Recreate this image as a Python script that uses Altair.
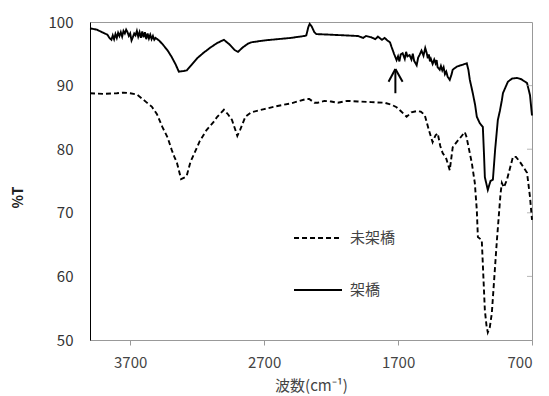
import altair as alt
import pandas as pd

# 架橋 (solid)
wn_x = [4000, 3950, 3900, 3870, 3855, 3840, 3830, 3820, 3810, 3800, 3790, 3780, 3770, 3760,
        3750, 3740, 3730, 3720, 3710, 3700, 3690, 3680, 3670, 3660, 3650, 3640, 3630, 3620,
        3610, 3600, 3590, 3580, 3570, 3560, 3550, 3540, 3530, 3520, 3510, 3480, 3450, 3420,
        3390, 3360, 3337, 3300, 3277, 3240, 3200, 3150, 3100, 3050, 3000, 2960, 2920, 2895,
        2860, 2820, 2797, 2700, 2600, 2500, 2400, 2385, 2370, 2360, 2345, 2325, 2310, 2200,
        2100, 2000, 1960, 1940, 1900, 1870, 1850, 1820, 1800, 1780, 1760, 1749, 1730, 1711,
        1700, 1690, 1680, 1666, 1650, 1640, 1630, 1614, 1600, 1590, 1580, 1561, 1550, 1540,
        1525, 1510, 1497, 1487, 1478, 1470, 1462, 1455, 1442, 1430, 1420, 1412, 1405, 1389,
        1380, 1370, 1360, 1350, 1340, 1330, 1314, 1300, 1292, 1260, 1230, 1187, 1175, 1164,
        1142, 1125, 1112, 1090, 1067, 1058, 1052, 1030, 1010, 992, 975, 955, 940, 925, 917,
        880, 850, 812, 780, 737, 715, 700]
t_x = [99.0, 98.8, 98.3, 98.0, 97.5, 97.2, 97.9, 97.3, 98.1, 97.5, 98.3, 97.8, 98.4, 97.7,
       98.6, 98.2, 98.8, 98.4, 97.8, 98.2, 97.1, 97.6, 98.2, 97.9, 98.6, 97.7, 98.4, 97.5,
       98.5, 97.6, 98.4, 97.3, 98.2, 97.4, 98.0, 97.3, 97.8, 97.2, 97.5, 97.0, 96.3, 95.5,
       94.5, 93.3, 92.2, 92.3, 92.4, 93.3, 94.3, 95.2, 96.0, 96.7, 97.2, 96.5, 95.6, 95.3,
       96.0, 96.6, 96.8, 97.1, 97.3, 97.5, 97.8, 97.9, 99.2, 99.7, 99.3, 98.4, 98.1, 98.0,
       97.9, 97.8, 97.5, 97.8, 97.6, 97.3, 97.7, 97.2, 97.5, 97.1, 96.8, 96.1, 95.0, 94.0,
       94.6, 93.8, 94.9, 95.1, 94.2, 95.3, 94.6, 94.8, 94.1, 95.0, 93.9, 93.2, 94.4, 94.8,
       95.5, 94.7, 95.9, 95.2, 94.3, 94.9, 93.8, 94.2, 93.4, 94.1, 93.5, 94.0, 92.9, 92.5,
       93.1, 92.4, 92.9, 91.8, 92.2, 91.4, 90.9, 91.8, 92.5, 93.0, 93.2, 93.5, 92.5, 90.9,
       88.8, 87.0, 85.1, 84.1, 83.5, 79.0, 75.6, 73.6, 75.0, 75.2, 80.0, 84.6, 86.0, 87.7, 88.8,
       90.6, 91.1, 91.2, 91.0, 90.4, 88.5, 85.3]

# 未架橋 (dashed)
wn_u = [4000, 3900, 3800, 3750, 3700, 3650, 3620, 3580, 3539, 3500, 3460, 3420, 3390, 3370,
        3350, 3320, 3290, 3277, 3250, 3220, 3180, 3130, 3080, 3050, 3000, 2970, 2940, 2900,
        2880, 2840, 2797, 2700, 2600, 2500, 2385, 2363, 2325, 2300, 2250, 2200, 2150, 2080,
        2000, 1900, 1800, 1750, 1711, 1680, 1636, 1600, 1561, 1530, 1501, 1470, 1442, 1420,
        1404, 1385, 1367, 1340, 1314, 1300, 1292, 1260, 1239, 1202, 1190, 1180, 1149, 1127,
        1112, 1104, 1075, 1052, 1040, 1030, 1015, 1000, 962, 935, 925, 910, 887, 842, 820,
        790, 737, 715, 700]
t_u = [88.8, 88.7, 88.8, 88.9, 88.8, 88.6, 88.1, 87.4, 86.7, 85.5, 83.5, 81.8, 79.9, 78.8,
       77.8, 75.3, 75.6, 75.9, 78.0, 79.4, 81.3, 83.0, 84.2, 85.1, 86.2, 85.5, 84.6, 82.1,
       83.0, 85.1, 85.8, 86.3, 86.8, 87.2, 87.9, 87.9, 87.3, 87.3, 87.6, 87.5, 87.3, 87.6,
       87.5, 87.4, 87.3, 87.0, 86.6, 86.0, 85.1, 85.8, 86.0, 85.9, 85.4, 83.0, 81.1, 82.2,
       82.5, 80.5, 79.4, 78.5, 76.7, 79.0, 80.3, 81.2, 81.7, 82.7, 82.0, 81.0, 77.8, 74.7,
       70.4, 66.2, 65.7, 54.7, 52.3, 51.2, 52.0, 54.2, 65.7, 73.0, 74.7, 74.0, 75.2, 78.8, 78.8,
       78.0, 76.3, 72.5, 68.9]

series_names = ["未架橋", "架橋"]
x_ticks = [3700, 2700, 1700, 700]
y_ticks = [50, 60, 70, 80, 90, 100]
right_ticks = [60, 70, 80, 90]

# arrow segments (shaft and two wings)
arrow_x = [1720, 1771, 1666]
arrow_x2 = [1720, 1720, 1720]
arrow_y = [88.8, 90.6, 90.6]
arrow_y2 = [92.6, 92.6, 92.6]

FONT = "Noto Sans CJK JP"

df = pd.concat([
    pd.DataFrame({"wn": wn_u, "t": t_u, "系列": series_names[0], "o": range(len(wn_u))}),
    pd.DataFrame({"wn": wn_x, "t": t_x, "系列": series_names[1], "o": range(len(wn_x))}),
])

xscale = alt.Scale(domain=[700, 4000], reverse=True, nice=False, zero=False)
yscale = alt.Scale(domain=[50, 100], nice=False, zero=False)

lines = alt.Chart(df).mark_line(color="black", strokeWidth=1.9).encode(
    x=alt.X("wn:Q", scale=xscale, axis=alt.Axis(
        values=x_ticks, format="d", title="波数(cm⁻¹)", grid=False, tickSize=5, tickColor="#999",
        domainColor="#999", labelFont=FONT, labelFontSize=15, labelColor="#444",
        labelPadding=10, titleFont=FONT, titleFontSize=15, titleFontWeight="normal",
        titleColor="#444", titleY=45, titleBaseline="middle", titleX=221)),
    y=alt.Y("t:Q", scale=yscale, axis=alt.Axis(
        values=y_ticks, format="d", title="%T", grid=False, ticks=False, domainColor="black",
        labelFont=FONT, labelFontSize=15, labelColor="#333", labelPadding=17,
        titleFont=FONT, titleFontSize=14, titleFontWeight="bold", titleColor="#222",
        titleX=-72, titleY=175, titleAlign="center", titleBaseline="middle")),
    strokeDash=alt.StrokeDash("系列:N", scale=alt.Scale(domain=series_names, range=[[5, 3], [1, 0]]),
                              legend=alt.Legend(title=None, orient="none", legendX=203, legendY=191,
                                                symbolType="stroke", symbolSize=2300,
                                                symbolStrokeWidth=1.9, symbolStrokeColor="black",
                                                labelFont=FONT, labelFontSize=15, labelColor="#444",
                                                labelOffset=7, rowPadding=19)),
    detail="系列:N",
    order="o:Q",
)

arrow_df = pd.DataFrame({"x": arrow_x, "x2": arrow_x2, "y": arrow_y, "y2": arrow_y2})
arrow = alt.Chart(arrow_df).mark_rule(color="black", strokeWidth=2).encode(
    x=alt.X("x:Q", scale=xscale), x2="x2:Q",
    y=alt.Y("y:Q", scale=yscale), y2="y2:Q",
)

rt = alt.Chart(pd.DataFrame({"v": right_ticks})).mark_tick(
    orient="horizontal", color="#999", size=5, thickness=1).encode(
    y=alt.Y("v:Q", scale=yscale), x=alt.value(439.5))

chart = alt.layer(lines, arrow, rt).properties(
    width=442, height=318,
    autosize=alt.AutoSizeParams(type="none"),
    padding={"left": 82, "top": 14, "right": 9, "bottom": 56},
).configure_view(stroke="#999", strokeWidth=1)

chart.save("out.html", embed_options={"renderer": "svg", "actions": False})
